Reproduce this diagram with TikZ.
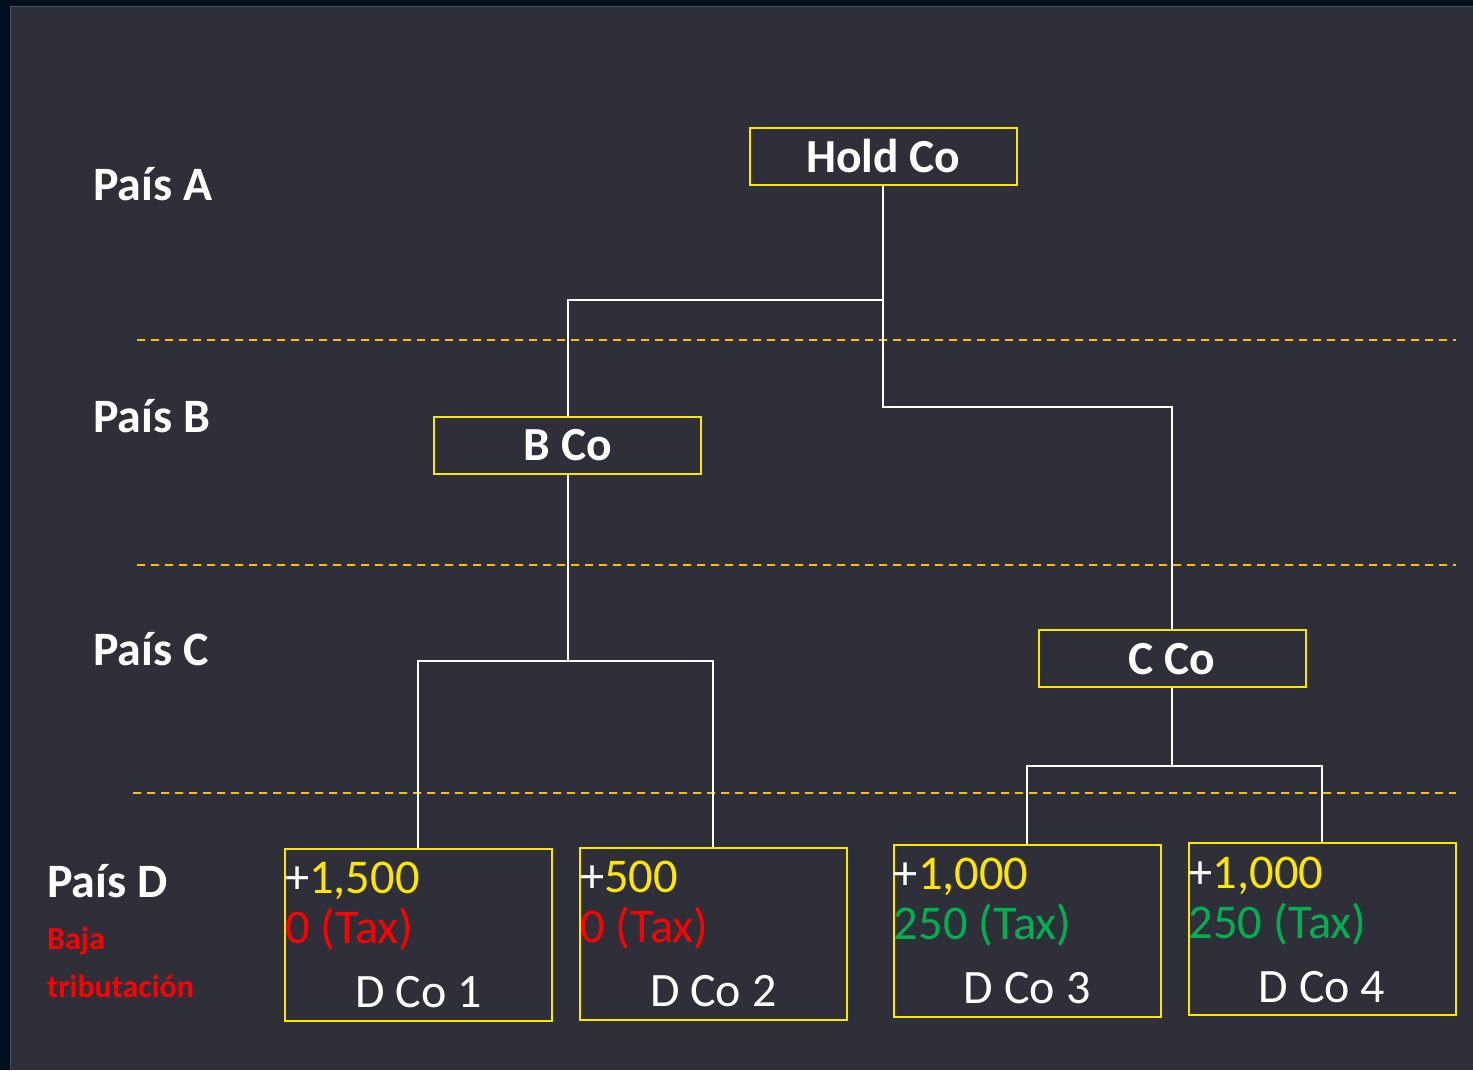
\documentclass[tikz,border=0pt]{standalone}
\usepackage{fontspec}
\setmainfont{Carlito}
\definecolor{bgouter}{HTML}{010F1F}
\definecolor{bgpanel}{HTML}{2F2F39}
\definecolor{panelrim}{HTML}{4A5262}
\definecolor{boxyellow}{HTML}{FFE600}
\definecolor{gold}{HTML}{FFC000}
\definecolor{taxred}{HTML}{FF0000}
\definecolor{taxgreen}{HTML}{00B050}
\begin{document}
\begin{tikzpicture}[x=1pt,y=-1pt,
  entity/.style={draw=boxyellow,line width=2pt,minimum width=267pt,minimum height=57pt,inner sep=0pt,
    text=white,font=\fontsize{47.5}{56}\selectfont\bfseries},
  dbox/.style={draw=boxyellow,line width=2pt,minimum width=267pt,minimum height=172pt,inner sep=0pt},
  country/.style={anchor=base west,inner sep=0pt,text=white,font=\fontsize{48}{56}\selectfont\bfseries},
  amount/.style={anchor=base west,inner sep=0pt,font=\fontsize{48.5}{56}\selectfont},
  dname/.style={anchor=base,inner sep=0pt,text=white,font=\fontsize{48}{56}\selectfont},
  lowtax/.style={anchor=base west,inner sep=0pt,text=taxred,font=\fontsize{32}{36}\selectfont\bfseries},
  link/.style={draw=white,line width=1.8pt},
  border/.style={draw=gold,line width=2pt,dash pattern=on 8pt off 6pt}]
% background
\fill[bgouter] (0,0) rectangle (1473,1070);
\fill[bgpanel] (11,7) rectangle (1473,1070);
\draw[panelrim,line width=1pt] (11,1070) -- (11,7) -- (1473,7);
\useasboundingbox (0,0) rectangle (1473,1070);

% country separators
\coordinate (ab0) at (137,340);  \coordinate (ab1) at (1456,340);
\coordinate (bc0) at (137,565);  \coordinate (bc1) at (1456,565);
\coordinate (cd0) at (133,793);  \coordinate (cd1) at (1456,793);
\draw[border] (ab0) -- (ab1);
\draw[border] (bc0) -- (bc1);
\draw[border] (cd0) -- (cd1);

% country labels
\node[country] (pa) at (93,201) {País A};
\node[country] (pb) at (93,433) {País B};
\node[country] (pc) at (93,666) {País C};
\node[country] (pd) at (47,898) {País D};
\node[lowtax] (baja) at (47,950) {Baja};
\node[lowtax] (trib) at (47,998) {tributación};

% holding structure
\node[entity] (hold) at (883.5,156.5) {Hold Co};
\node[entity] (bco) at (568,445.5) {B Co};
\node[entity] (cco) at (1172.5,659) {C Co};

% subsidiaries in country D
\node[dbox] (d1) at (418.5,935) {};
\node[dbox] (d2) at (713.5,934) {};
\node[dbox] (d3) at (1027.5,931) {};
\node[dbox] (d4) at (1322.5,929.5) {};

\foreach \d/\n/\amt/\tax/\tc in {d1/1/{1,500}/0/taxred, d2/2/{500}/0/taxred, d3/3/{1,000}/250/taxgreen, d4/4/{1,000}/250/taxgreen}{
  \node[amount,text=white] (\d inc) at ([yshift=-46pt,xshift=1pt]\d.north west) {+\textcolor{boxyellow}{\amt}};
  \node[amount,text=\tc] (\d tax) at ([yshift=-96pt,xshift=1pt]\d.north west) {\tax\ (Tax)};
  \node[dname] (\d lab) at ([yshift=-160pt]\d.north) {D Co \n};
}

% ownership links
\coordinate (hsplit) at (883.5,300);
\coordinate (hturn) at (883.5,407);
\draw[link] (hold.south) -- (hsplit) -| (bco.north);
\draw[link] (hsplit) -- (hturn) -| (cco.north);

\coordinate (bsplit) at (568,661);
\draw[link] (bco.south) -- (bsplit);
\draw[link] (bsplit) -| (d1.north);
\draw[link] (bsplit) -| (d2.north);

\coordinate (csplit) at (1172.5,766);
\draw[link] (cco.south) -- (csplit);
\draw[link] (csplit) -| (d3.north);
\draw[link] (csplit) -| (d4.north);
\end{tikzpicture}
\end{document}
